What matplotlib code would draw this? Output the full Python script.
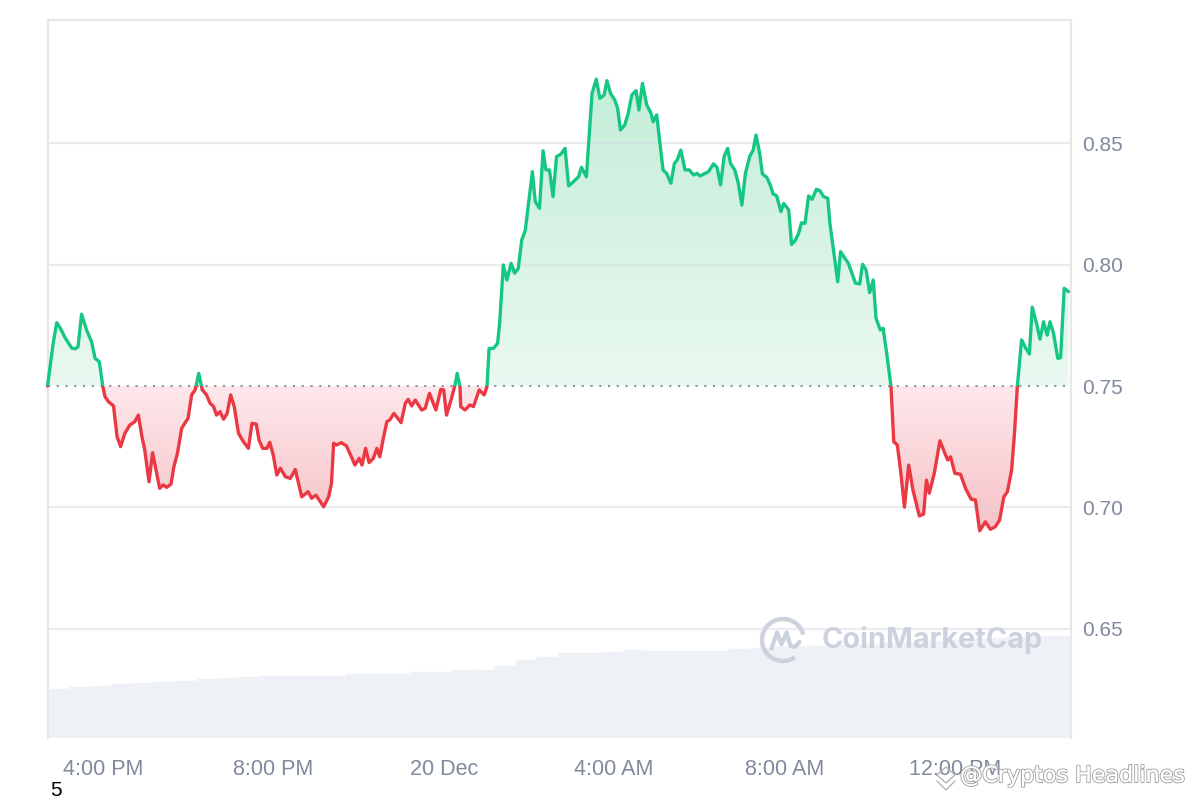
import numpy as np
import matplotlib
matplotlib.use("Agg")
import matplotlib.pyplot as plt
from matplotlib.patches import Rectangle, Arc
from matplotlib.path import Path
from matplotlib.colors import LinearSegmentedColormap
import matplotlib.patheffects as pe

plt.rcParams['font.family'] = ['Liberation Sans', 'DejaVu Sans']

# ---------------- data (minutes after 14:42, 19 Dec) ----------------
minutes = [0, 8, 13, 18, 25, 34, 39, 43, 48, 55, 62, 67, 73, 78, 81, 86, 93, 98, 103, 109,
           116, 123, 128, 133, 137, 143, 148, 158, 163, 168, 174, 178, 183, 189, 198, 203, 208,
           213, 218, 224, 229, 234, 238, 243, 248, 253, 258, 263, 269, 276, 283, 288, 294, 298,
           303, 309, 313, 318, 323, 328, 335, 342, 349, 358, 367, 372, 378, 389, 396, 400, 403,
           407, 414, 421, 427, 433, 439, 443, 448, 453, 459, 464, 468, 473, 478, 482, 488, 498,
           504, 508, 513, 518, 527, 532, 538, 547, 554, 558, 562, 569, 574, 577, 581, 582, 588,
           595, 600, 608, 615, 619, 622, 628, 634, 637, 642, 647, 653, 658, 663, 668, 673, 677,
           683, 687, 693, 698, 702, 707, 712, 717, 723, 729, 734, 741, 748, 752, 759, 767, 773,
           778, 784, 788, 793, 799, 803, 807, 813, 818, 823, 829, 833, 838, 844, 850, 853, 858,
           867, 872, 878, 883, 887, 892, 898, 904, 910, 915, 919, 931, 938, 943, 948, 953, 958,
           962, 968, 973, 978, 983, 989, 994, 998, 1003, 1007, 1013, 1018, 1022, 1027, 1033,
           1037, 1044, 1048, 1053, 1058, 1062, 1067, 1072, 1077, 1083, 1088, 1093, 1099, 1102,
           1107, 1113, 1117, 1123, 1128, 1133, 1138, 1144, 1148, 1153, 1158, 1163, 1167, 1173,
           1177, 1182, 1188, 1192, 1197, 1202, 1207, 1213, 1219, 1228, 1234, 1238, 1242, 1249,
           1257, 1264, 1268, 1272, 1278, 1286, 1293, 1301, 1307, 1313, 1321, 1328, 1335, 1341,
           1347, 1352, 1358, 1362, 1366, 1372, 1378, 1383, 1387, 1393, 1398, 1403, 1408, 1412,
           1417, 1423, 1427, 1432, 1438]

prices = [0.7500, 0.7676, 0.7761, 0.7739, 0.7698, 0.7657, 0.7653, 0.7662, 0.7796, 0.7731,
          0.7683, 0.7614, 0.7600, 0.7497, 0.7456, 0.7435, 0.7418, 0.7291, 0.7250, 0.7305,
          0.7339, 0.7353, 0.7380, 0.7291, 0.7236, 0.7105, 0.7225, 0.7078, 0.7092, 0.7082,
          0.7096, 0.7167, 0.7222, 0.7326, 0.7367, 0.7463, 0.7484, 0.7552, 0.7484, 0.7463,
          0.7429, 0.7415, 0.7380, 0.7394, 0.7363, 0.7387, 0.7463, 0.7415, 0.7305, 0.7270,
          0.7243, 0.7346, 0.7343, 0.7277, 0.7243, 0.7243, 0.7268, 0.7215, 0.7133, 0.7161,
          0.7126, 0.7119, 0.7156, 0.7043, 0.7064, 0.7037, 0.7050, 0.7002, 0.7043, 0.7099,
          0.7264, 0.7257, 0.7266, 0.7253, 0.7215, 0.7174, 0.7202, 0.7174, 0.7243, 0.7184,
          0.7202, 0.7243, 0.7208, 0.7284, 0.7353, 0.7360, 0.7387, 0.7349, 0.7429, 0.7445,
          0.7418, 0.7442, 0.7401, 0.7408, 0.7470, 0.7401, 0.7486, 0.7484, 0.7380, 0.7449,
          0.7504, 0.7552, 0.7497, 0.7415, 0.7401, 0.7422, 0.7415, 0.7484, 0.7463, 0.7497,
          0.7655, 0.7655, 0.7676, 0.7765, 0.7999, 0.7937, 0.8006, 0.7965, 0.7985, 0.8102,
          0.8143, 0.8239, 0.8384, 0.8260, 0.8233, 0.8470, 0.8391, 0.8391, 0.8281, 0.8446,
          0.8456, 0.8480, 0.8325, 0.8343, 0.8363, 0.8402, 0.8363, 0.8707, 0.8765, 0.8686,
          0.8700, 0.8759, 0.8707, 0.8679, 0.8645, 0.8556, 0.8576, 0.8625, 0.8700, 0.8718,
          0.8638, 0.8748, 0.8659, 0.8625, 0.8590, 0.8618, 0.8391, 0.8377, 0.8336, 0.8418,
          0.8432, 0.8473, 0.8391, 0.8391, 0.8370, 0.8377, 0.8366, 0.8384, 0.8416, 0.8402,
          0.8329, 0.8446, 0.8480, 0.8418, 0.8391, 0.8336, 0.8246, 0.8377, 0.8446, 0.8473,
          0.8535, 0.8460, 0.8374, 0.8361, 0.8329, 0.8292, 0.8284, 0.8219, 0.8253, 0.8226,
          0.8084, 0.8099, 0.8130, 0.8173, 0.8171, 0.8284, 0.8270, 0.8311, 0.8305, 0.8281,
          0.8274, 0.8171, 0.8061, 0.7930, 0.8054, 0.8027, 0.8006, 0.7965, 0.7924, 0.7921,
          0.8002, 0.7978, 0.7885, 0.7937, 0.7779, 0.7731, 0.7738, 0.7635, 0.7500, 0.7270,
          0.7257, 0.7140, 0.7000, 0.7174, 0.7071, 0.6964, 0.6972, 0.7112, 0.7058, 0.7140,
          0.7274, 0.7222, 0.7195, 0.7208, 0.7140, 0.7136, 0.7078, 0.7033, 0.7030, 0.6903,
          0.6940, 0.6909, 0.6920, 0.6947, 0.7043, 0.7064, 0.7154, 0.7305, 0.7497, 0.7690,
          0.7655, 0.7632, 0.7825, 0.7759, 0.7693, 0.7765, 0.7710, 0.7765, 0.7717, 0.7614,
          0.7617, 0.7903, 0.7889]

open_price = 0.75

vol_minutes = [0, 30, 60, 90, 120, 150, 180, 210, 240, 270, 300, 330, 360, 390, 420, 450,
               480, 510, 540, 570, 600, 630, 660, 690, 720, 750, 780, 810, 840, 870, 900, 930,
               960, 990, 1020, 1050, 1080, 1110, 1140, 1170, 1200, 1230, 1260, 1290, 1320,
               1350, 1380, 1410]
volumes = [49, 51, 52.5, 54, 55.5, 56.5, 57.5, 59, 60, 61.5,
           62, 62, 62, 62, 64, 64, 64, 66, 66, 68,
           68, 72, 78, 81.5, 84.7, 85, 86.3, 88, 87, 87,
           87, 87, 89, 90, 91.3, 92, 92.5, 93, 94, 95,
           96, 97, 98, 99, 100, 101, 102, 102]

ytick_vals = [0.65, 0.70, 0.75, 0.80, 0.85]
xtick_minutes = [78, 318, 558, 798, 1038, 1278]
xtick_labels = ["4:00 PM", "8:00 PM", "20 Dec", "4:00 AM", "8:00 AM", "12:00 PM"]

# ---------------- figure ----------------
GREEN = '#16c784'
RED = '#ea3943'
LABEL = '#808a9d'

fig = plt.figure(figsize=(12, 8), dpi=100)
ax = fig.add_axes([47.5 / 1200, 62 / 800, (1071 - 47.5) / 1200, (738 - 19.5) / 800])
x0, x1 = 0, 1441.6
y0, y1 = 0.60485, 0.90113

# volume bars on a twin axis (behind)
ax2 = ax.twinx()
ax2.bar(vol_minutes, volumes, width=30, align='edge', color='#eef1f5',
        edgecolor='#f2f4f7', linewidth=0.3)
ax2.set_ylim(0, 718.5)
ax2.set_xlim(x0, x1)
ax2.axis('off')
ax.set_zorder(ax2.get_zorder() + 1)
ax.patch.set_visible(False)

x = np.array(minutes, dtype=float)
p = np.array(prices)

# gradient fills
gpoly = ax.fill_between(x, p, open_price, where=p >= open_price, interpolate=True,
                        color='none', lw=0)
rpoly = ax.fill_between(x, p, open_price, where=p <= open_price, interpolate=True,
                        color='none', lw=0)
grad = np.linspace(0, 1, 256).reshape(-1, 1)
gcmap = LinearSegmentedColormap.from_list('g', ['#eaf9f1', '#c4eed8'])
rcmap = LinearSegmentedColormap.from_list('r', ['#f6c2c7', '#fde8eb'])
gim = ax.imshow(grad, extent=(x0, x1, open_price, p.max()), origin='lower', cmap=gcmap,
                aspect='auto', zorder=1, interpolation='bilinear')
gim.set_clip_path(Path.make_compound_path(*gpoly.get_paths()), transform=ax.transData)
rim = ax.imshow(grad, extent=(x0, x1, p.min(), open_price), origin='lower', cmap=rcmap,
                aspect='auto', zorder=1, interpolation='bilinear')
rim.set_clip_path(Path.make_compound_path(*rpoly.get_paths()), transform=ax.transData)

# grid lines
for v in ytick_vals:
    if v != open_price:
        ax.axhline(v, color='#d4d7dd', alpha=0.45, lw=1.6, zorder=2)

# baseline dotted
ax.axhline(open_price, color='#8d939e', lw=1.5, linestyle=(0, (1, 3.2)), zorder=3)

# price line, green above / red below
gl, = ax.plot(x, p, color=GREEN, lw=2.4, zorder=5, solid_joinstyle='round',
              solid_capstyle='round')
gl.set_clip_path(Rectangle((x0 - 10, open_price), x1 - x0 + 20, 1.0, transform=ax.transData))
rl, = ax.plot(x, p, color=RED, lw=2.4, zorder=5, solid_joinstyle='round',
              solid_capstyle='round')
rl.set_clip_path(Rectangle((x0 - 10, 0.0), x1 - x0 + 20, open_price, transform=ax.transData))

ax.set_xlim(x0, x1)
ax.set_ylim(y0, y1)

# axes styling
for s in ['top', 'left', 'right']:
    ax.spines[s].set_color('#e6e7ea')
    ax.spines[s].set_linewidth(1.6)
ax.spines['bottom'].set_visible(False)

ax.yaxis.tick_right()
ax.set_yticks(ytick_vals)
ax.set_yticklabels([f"{v:.2f}" for v in ytick_vals])
ax.set_xticks(xtick_minutes)
ax.set_xticklabels(xtick_labels)
ax.tick_params(axis='y', length=0, pad=8, labelsize=15, labelcolor=LABEL)
ax.tick_params(axis='x', length=0, pad=15, labelsize=15.5, labelcolor=LABEL)

# CoinMarketCap watermark
wm = '#cbd2dd'
fig.add_artist(Arc((7.83, 1.60), 0.42, 0.42, theta1=15, theta2=305,
                   transform=fig.dpi_scale_trans, color=wm, lw=3.2))
mx = np.array([-0.115, -0.06, -0.015, 0.035, 0.075, 0.12, 0.165])
my = np.array([-0.085, 0.075, -0.045, 0.075, -0.06, -0.07, -0.02])
fig.add_artist(plt.Line2D(7.83 + mx, 1.60 + my, transform=fig.dpi_scale_trans, color=wm,
                          lw=3.0, solid_joinstyle='round', solid_capstyle='round'))
fig.text(8.22 / 12, 1.60 / 8, "CoinMarketCap", color=wm, fontsize=20.8, fontweight='bold',
         family=['Inter', 'DejaVu Sans'], ha='left', va='center')

# other texts
fig.text(50 / 1200, 10 / 800, "5", color='black', fontsize=15, ha='left', va='center')
t = fig.text(960 / 1200, 24 / 800, "@Cryptos Headlines", color='white', fontsize=16,
             family=['DejaVu Sans'], ha='left', va='center')
t.set_path_effects([pe.withStroke(linewidth=1.6, foreground='#a9a9a9'), pe.Normal()])
icon_x = np.array([937, 946, 955, 946, 937]) / 1200
icon_y = (800 - np.array([775, 767, 775, 783, 775])) / 800
fig.add_artist(plt.Line2D(icon_x, icon_y, transform=fig.transFigure, color='#b5b5b5', lw=1.0))
chev_x = np.array([937, 946, 955]) / 1200
chev_y = (800 - np.array([781, 790, 781])) / 800
fig.add_artist(plt.Line2D(chev_x, chev_y, transform=fig.transFigure, color='#b5b5b5', lw=1.0))

fig.savefig("out.png", dpi=100, facecolor='white')
